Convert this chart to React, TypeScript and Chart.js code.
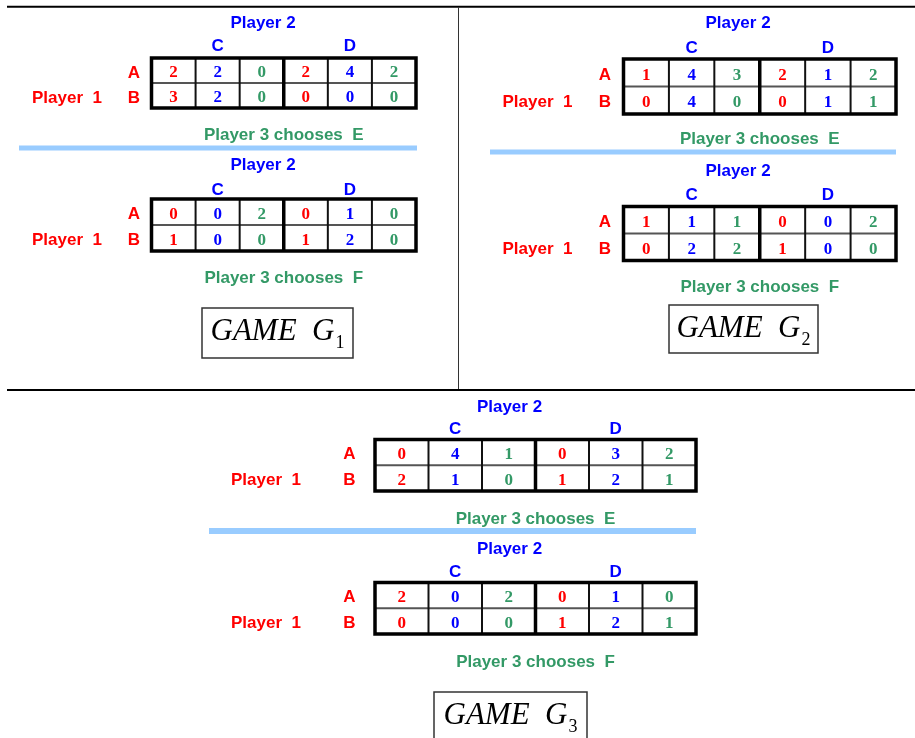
import React, { useEffect, useRef } from 'react';
import { Chart, registerables } from 'chart.js';

Chart.register(...registerables);

// ---------- data ----------
const PLAYER1 = 'Player  1';
const PLAYER2 = 'Player 2';
const PLAYER3 = 'Player 3 chooses';
const ROWS = ['A', 'B'];
const COLS = ['C', 'D'];
const CHOICES = ['E', 'F'];
const GAME_LABEL = 'GAME';
const GAME_IDS = ['1', '2', '3'];

// payoffs per row: [p1,p2,p3 for C, p1,p2,p3 for D]
const g1E = [
  [2, 2, 0, 2, 4, 2],
  [3, 2, 0, 0, 0, 0],
];
const g1F = [
  [0, 0, 2, 0, 1, 0],
  [1, 0, 0, 1, 2, 0],
];
const g2E = [
  [1, 4, 3, 2, 1, 2],
  [0, 4, 0, 0, 1, 1],
];
const g2F = [
  [1, 1, 1, 0, 0, 2],
  [0, 2, 2, 1, 0, 0],
];
const g3E = [
  [0, 4, 1, 0, 3, 2],
  [2, 1, 0, 1, 2, 1],
];
const g3F = [
  [2, 0, 2, 0, 1, 0],
  [0, 0, 0, 1, 2, 1],
];
const GAMES = [
  [g1E, g1F],
  [g2E, g2F],
  [g3E, g3F],
];

// ---------- layout & style ----------
const W = 915;
const H = 738;
const RED = '#ff0000';
const BLUE = '#0000ff';
const GREEN = '#339966';
const SEP_BLUE = '#99ccff';
const PLAYER_COLORS = [RED, BLUE, GREEN];
const LABEL_FONT = 'bold 17px "Liberation Sans", Arial, sans-serif';
const NUM_FONT = 'bold 17px "Liberation Serif", "Times New Roman", serif';
const LABEL_HALF_CAP = 6.1;
const NUM_HALF_CAP = 5.8;

type Sub = {
  x0: number; x1: number; y0: number; y1: number;
  p2X: number; p2Y: number; cdY: number; abX: number; p1X: number; chY: number;
};
type Panel = {
  subs: Sub[];
  sep: { x0: number; x1: number; y: number; w: number };
  box: { x0: number; x1: number; y0: number; y1: number };
};

const PANELS: Panel[] = [
  {
    subs: [
      { x0: 151.5, x1: 416, y0: 58, y1: 108, p2X: 263, p2Y: 22, cdY: 45, abX: 134, p1X: 67, chY: 134 },
      { x0: 151.5, x1: 416, y0: 199, y1: 251, p2X: 263, p2Y: 164, cdY: 188.5, abX: 134, p1X: 67, chY: 277 },
    ],
    sep: { x0: 19, x1: 417, y: 148, w: 5 },
    box: { x0: 202, x1: 353, y0: 308, y1: 358 },
  },
  {
    subs: [
      { x0: 623.5, x1: 896, y0: 59, y1: 114, p2X: 738, p2Y: 22, cdY: 46.5, abX: 605, p1X: 537.5, chY: 137.5 },
      { x0: 623.5, x1: 896, y0: 206.5, y1: 260.5, p2X: 738, p2Y: 170, cdY: 194, abX: 605, p1X: 537.5, chY: 286 },
    ],
    sep: { x0: 490, x1: 896, y: 152, w: 5 },
    box: { x0: 669, x1: 818, y0: 305, y1: 353 },
  },
  {
    subs: [
      { x0: 375, x1: 696, y0: 439.5, y1: 491, p2X: 509.5, p2Y: 406, cdY: 428, abX: 349.5, p1X: 266, chY: 517.5 },
      { x0: 375, x1: 696, y0: 582.5, y1: 634, p2X: 509.5, p2Y: 547.5, cdY: 571, abX: 349.5, p1X: 266, chY: 660.5 },
    ],
    sep: { x0: 209, x1: 696, y: 531, w: 6 },
    box: { x0: 434, x1: 587, y0: 692, y1: 746 },
  },
];

const figurePlugin = {
  id: 'gameFigure',
  afterDraw(chart: any) {
    const ctx: CanvasRenderingContext2D = chart.ctx;
    const sx = (v: number) => chart.scales.x.getPixelForValue(v);
    const sy = (v: number) => chart.scales.y.getPixelForValue(v);

    const line = (x0: number, y0: number, x1: number, y1: number, w: number, c: string) => {
      ctx.beginPath();
      ctx.lineWidth = w;
      ctx.strokeStyle = c;
      ctx.lineCap = 'butt';
      ctx.moveTo(sx(x0), sy(y0));
      ctx.lineTo(sx(x1), sy(y1));
      ctx.stroke();
    };
    const text = (s: string, x: number, yc: number, font: string, color: string, half: number, align: CanvasTextAlign = 'center') => {
      ctx.font = font;
      ctx.fillStyle = color;
      ctx.textAlign = align;
      ctx.textBaseline = 'alphabetic';
      ctx.fillText(s, sx(x), sy(yc) + half);
    };

    ctx.save();
    // frame lines
    line(7, 6.7, W, 6.7, 2, '#000');
    line(458.5, 7, 458.5, 390, 1, '#333');
    line(7, 390, W, 390, 2, '#000');

    PANELS.forEach((panel, gi) => {
      panel.subs.forEach((sub, si) => {
        const payoffs = GAMES[gi][si];
        const cw = (sub.x1 - sub.x0) / 6;
        const rh = (sub.y1 - sub.y0) / 2;
        // headers
        text(PLAYER2, sub.p2X, sub.p2Y, LABEL_FONT, BLUE, LABEL_HALF_CAP);
        COLS.forEach((c, ci) => {
          text(c, sub.x0 + cw * (ci * 3 + 1.5), sub.cdY, LABEL_FONT, BLUE, LABEL_HALF_CAP);
        });
        ROWS.forEach((r, ri) => {
          text(r, sub.abX, sub.y0 + rh * (ri + 0.5) + 1, LABEL_FONT, RED, LABEL_HALF_CAP);
        });
        text(PLAYER1, sub.p1X, sub.y0 + rh * 1.5 + 1, LABEL_FONT, RED, LABEL_HALF_CAP);
        text(PLAYER3 + '  ' + CHOICES[si], (sub.x0 + sub.x1) / 2, sub.chY, LABEL_FONT, GREEN, LABEL_HALF_CAP);

        // payoff cells
        payoffs.forEach((row, ri) => {
          row.forEach((v, ci) => {
            text(String(v), sub.x0 + cw * (ci + 0.5), sub.y0 + rh * (ri + 0.5) + 1, NUM_FONT, PLAYER_COLORS[ci % 3], NUM_HALF_CAP);
          });
        });

        // grid
        line(sub.x0, sub.y0 + rh, sub.x1, sub.y0 + rh, 2, '#555');
        for (let k = 1; k < 6; k++) {
          const x = sub.x0 + cw * k;
          if (k === 3) line(x, sub.y0, x, sub.y1, 3.5, '#000');
          else line(x, sub.y0, x, sub.y1, 2, '#111');
        }
        ctx.beginPath();
        ctx.lineWidth = 3.5;
        ctx.strokeStyle = '#000';
        ctx.lineJoin = 'miter';
        ctx.rect(sx(sub.x0), sy(sub.y0), sx(sub.x1) - sx(sub.x0), sy(sub.y1) - sy(sub.y0));
        ctx.stroke();
      });

      // separator between E and F
      line(panel.sep.x0, panel.sep.y, panel.sep.x1, panel.sep.y, panel.sep.w, SEP_BLUE);

      // game box
      const b = panel.box;
      ctx.beginPath();
      ctx.lineWidth = 1.5;
      ctx.strokeStyle = '#333';
      ctx.rect(sx(b.x0), sy(b.y0), sx(b.x1) - sx(b.x0), sy(b.y1) - sy(b.y0));
      ctx.stroke();
      const mainFont = 'italic 31px "Liberation Serif", "Times New Roman", serif';
      const subFont = '18px "Liberation Serif", "Times New Roman", serif';
      const main = GAME_LABEL + '  G';
      ctx.font = mainFont;
      const mw = ctx.measureText(main).width;
      ctx.font = subFont;
      const subW = ctx.measureText(GAME_IDS[gi]).width;
      const total = mw + 1 + subW;
      const left = (sx(b.x0) + sx(b.x1)) / 2 - total / 2;
      const base = sy(b.y0) + 32;
      ctx.fillStyle = '#000';
      ctx.textAlign = 'left';
      ctx.textBaseline = 'alphabetic';
      ctx.font = mainFont;
      ctx.fillText(main, left, base);
      ctx.font = subFont;
      ctx.fillText(GAME_IDS[gi], left + mw + 1, base + 8);
    });
    ctx.restore();
  },
};

export default function App() {
  const ref = useRef<HTMLCanvasElement>(null);
  useEffect(() => {
    if (!ref.current) return;
    const chart = new Chart(ref.current, {
      type: 'scatter',
      data: { datasets: [] },
      options: {
        animation: false,
        responsive: false,
        devicePixelRatio: 1,
        layout: { padding: 0 },
        plugins: { legend: { display: false }, tooltip: { enabled: false } },
        scales: {
          x: { type: 'linear', min: 0, max: W, display: false },
          y: { type: 'linear', min: 0, max: H, reverse: true, display: false },
        },
      },
      plugins: [figurePlugin],
    } as any);
    return () => chart.destroy();
  }, []);
  return (
    <div style={{ position: 'absolute', left: 0, top: 0, width: W, height: H, background: '#fff' }}>
      <canvas ref={ref} width={W} height={H} style={{ display: 'block', width: W, height: H }} />
    </div>
  );
}
